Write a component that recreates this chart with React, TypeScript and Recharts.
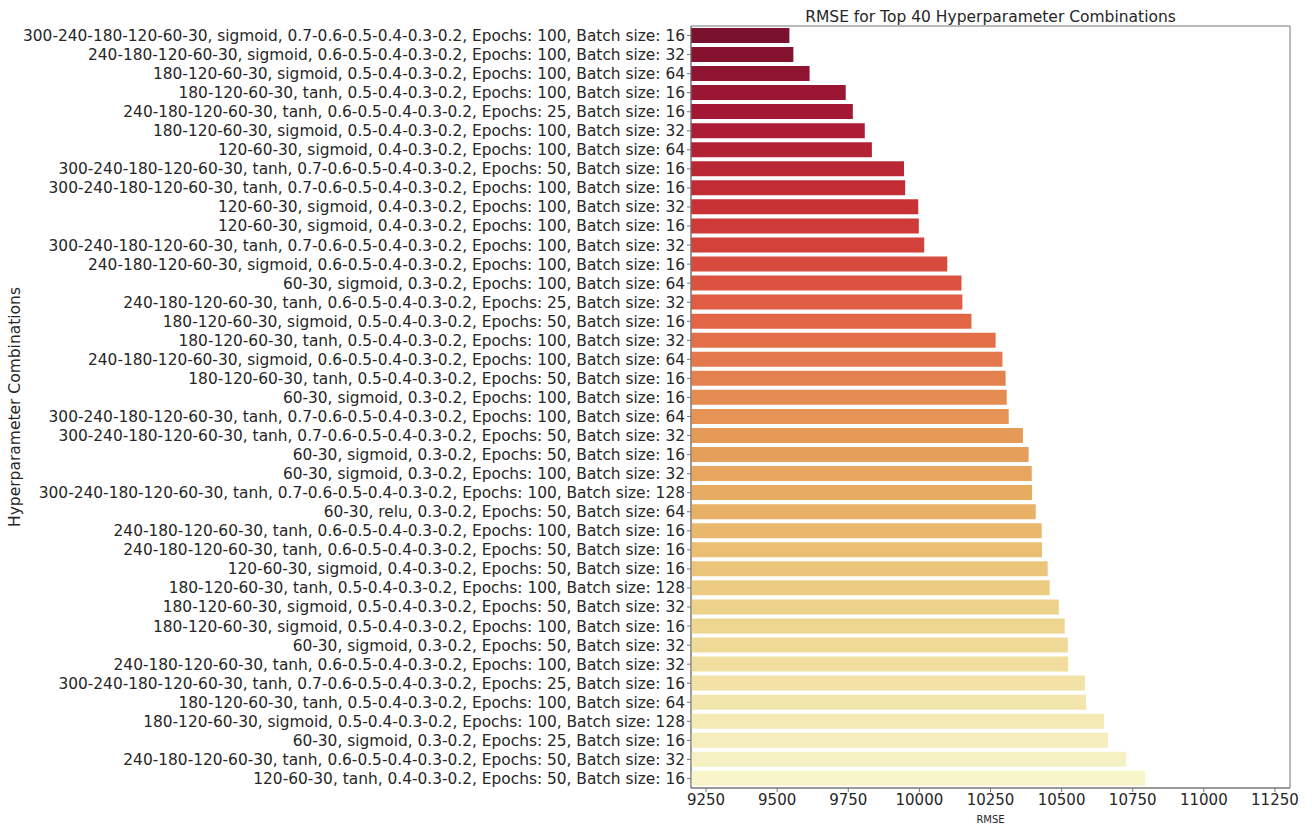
import React from 'react';
import { BarChart, Bar, XAxis, YAxis, Cell, ReferenceArea } from 'recharts';

const combos = [
  '300-240-180-120-60-30, sigmoid, 0.7-0.6-0.5-0.4-0.3-0.2, Epochs: 100, Batch size: 16',
  '240-180-120-60-30, sigmoid, 0.6-0.5-0.4-0.3-0.2, Epochs: 100, Batch size: 32',
  '180-120-60-30, sigmoid, 0.5-0.4-0.3-0.2, Epochs: 100, Batch size: 64',
  '180-120-60-30, tanh, 0.5-0.4-0.3-0.2, Epochs: 100, Batch size: 16',
  '240-180-120-60-30, tanh, 0.6-0.5-0.4-0.3-0.2, Epochs: 25, Batch size: 16',
  '180-120-60-30, sigmoid, 0.5-0.4-0.3-0.2, Epochs: 100, Batch size: 32',
  '120-60-30, sigmoid, 0.4-0.3-0.2, Epochs: 100, Batch size: 64',
  '300-240-180-120-60-30, tanh, 0.7-0.6-0.5-0.4-0.3-0.2, Epochs: 50, Batch size: 16',
  '300-240-180-120-60-30, tanh, 0.7-0.6-0.5-0.4-0.3-0.2, Epochs: 100, Batch size: 16',
  '120-60-30, sigmoid, 0.4-0.3-0.2, Epochs: 100, Batch size: 32',
  '120-60-30, sigmoid, 0.4-0.3-0.2, Epochs: 100, Batch size: 16',
  '300-240-180-120-60-30, tanh, 0.7-0.6-0.5-0.4-0.3-0.2, Epochs: 100, Batch size: 32',
  '240-180-120-60-30, sigmoid, 0.6-0.5-0.4-0.3-0.2, Epochs: 100, Batch size: 16',
  '60-30, sigmoid, 0.3-0.2, Epochs: 100, Batch size: 64',
  '240-180-120-60-30, tanh, 0.6-0.5-0.4-0.3-0.2, Epochs: 25, Batch size: 32',
  '180-120-60-30, sigmoid, 0.5-0.4-0.3-0.2, Epochs: 50, Batch size: 16',
  '180-120-60-30, tanh, 0.5-0.4-0.3-0.2, Epochs: 100, Batch size: 32',
  '240-180-120-60-30, sigmoid, 0.6-0.5-0.4-0.3-0.2, Epochs: 100, Batch size: 64',
  '180-120-60-30, tanh, 0.5-0.4-0.3-0.2, Epochs: 50, Batch size: 16',
  '60-30, sigmoid, 0.3-0.2, Epochs: 100, Batch size: 16',
  '300-240-180-120-60-30, tanh, 0.7-0.6-0.5-0.4-0.3-0.2, Epochs: 100, Batch size: 64',
  '300-240-180-120-60-30, tanh, 0.7-0.6-0.5-0.4-0.3-0.2, Epochs: 50, Batch size: 32',
  '60-30, sigmoid, 0.3-0.2, Epochs: 50, Batch size: 16',
  '60-30, sigmoid, 0.3-0.2, Epochs: 100, Batch size: 32',
  '300-240-180-120-60-30, tanh, 0.7-0.6-0.5-0.4-0.3-0.2, Epochs: 100, Batch size: 128',
  '60-30, relu, 0.3-0.2, Epochs: 50, Batch size: 64',
  '240-180-120-60-30, tanh, 0.6-0.5-0.4-0.3-0.2, Epochs: 100, Batch size: 16',
  '240-180-120-60-30, tanh, 0.6-0.5-0.4-0.3-0.2, Epochs: 50, Batch size: 16',
  '120-60-30, sigmoid, 0.4-0.3-0.2, Epochs: 50, Batch size: 16',
  '180-120-60-30, tanh, 0.5-0.4-0.3-0.2, Epochs: 100, Batch size: 128',
  '180-120-60-30, sigmoid, 0.5-0.4-0.3-0.2, Epochs: 50, Batch size: 32',
  '180-120-60-30, sigmoid, 0.5-0.4-0.3-0.2, Epochs: 100, Batch size: 16',
  '60-30, sigmoid, 0.3-0.2, Epochs: 50, Batch size: 32',
  '240-180-120-60-30, tanh, 0.6-0.5-0.4-0.3-0.2, Epochs: 100, Batch size: 32',
  '300-240-180-120-60-30, tanh, 0.7-0.6-0.5-0.4-0.3-0.2, Epochs: 25, Batch size: 16',
  '180-120-60-30, tanh, 0.5-0.4-0.3-0.2, Epochs: 100, Batch size: 64',
  '180-120-60-30, sigmoid, 0.5-0.4-0.3-0.2, Epochs: 100, Batch size: 128',
  '60-30, sigmoid, 0.3-0.2, Epochs: 25, Batch size: 16',
  '240-180-120-60-30, tanh, 0.6-0.5-0.4-0.3-0.2, Epochs: 50, Batch size: 32',
  '120-60-30, tanh, 0.4-0.3-0.2, Epochs: 50, Batch size: 16',
];

const rmse = [
  9543, 9557, 9614, 9741, 9766, 9808, 9833, 9946, 9950, 9996,
  9998, 10017, 10098, 10148, 10151, 10183, 10268, 10292, 10303, 10307,
  10314, 10364, 10384, 10395, 10396, 10409, 10430, 10431, 10451, 10458,
  10490, 10511, 10522, 10523, 10582, 10586, 10649, 10663, 10727, 10794,
];

const xTicks = [9250, 9500, 9750, 10000, 10250, 10500, 10750, 11000, 11250];
const xDomain = [9197, 11303];

const data = combos.map((name, i) => ({ name, rmse: rmse[i] }));

// YlOrRd reversed, desaturated like seaborn (saturation 0.75)
const stops = ['#800026', '#bd0026', '#e31a1c', '#fc4e2a', '#fd8d3c', '#feb24c', '#fed976', '#ffeda0', '#ffffcc'];

function hexToRgb(h: string) {
  return [1, 3, 5].map((k) => parseInt(h.slice(k, k + 2), 16) / 255);
}

function desat(rgb: number[], s: number) {
  const [r, g, b] = rgb;
  const max = Math.max(r, g, b);
  const min = Math.min(r, g, b);
  const l = (max + min) / 2;
  if (max === min) return rgb;
  const d = max - min;
  let sat = l > 0.5 ? d / (2 - max - min) : d / (max + min);
  let h = 0;
  if (max === r) h = ((g - b) / d + (g < b ? 6 : 0)) / 6;
  else if (max === g) h = ((b - r) / d + 2) / 6;
  else h = ((r - g) / d + 4) / 6;
  sat *= s;
  const q = l < 0.5 ? l * (1 + sat) : l + sat - l * sat;
  const p = 2 * l - q;
  const hue = (t: number) => {
    if (t < 0) t += 1;
    if (t > 1) t -= 1;
    if (t < 1 / 6) return p + (q - p) * 6 * t;
    if (t < 1 / 2) return q;
    if (t < 2 / 3) return p + (q - p) * (2 / 3 - t) * 6;
    return p;
  };
  return [hue(h + 1 / 3), hue(h), hue(h - 1 / 3)];
}

function colorAt(i: number, n: number) {
  const t = (i + 1) / (n + 1);
  const pos = t * (stops.length - 1);
  const k = Math.min(Math.floor(pos), stops.length - 2);
  const f = pos - k;
  const a = hexToRgb(stops[k]);
  const b = hexToRgb(stops[k + 1]);
  const mix = a.map((v, j) => v + (b[j] - v) * f);
  const out = desat(mix, 0.75);
  return `rgb(${out.map((v) => Math.round(v * 255)).join(',')})`;
}

const font = 'DejaVu Sans, sans-serif';
const textColor = '#262626';
const spine = '#777';

export default function App() {
  return (
    <div style={{ position: 'absolute', left: 0, top: 0, width: 1312, height: 825, background: '#fff', fontFamily: font }}>
      <div
        style={{
          position: 'absolute',
          left: 691,
          width: 599,
          top: 8,
          textAlign: 'center',
          fontSize: 15.5,
          color: textColor,
          whiteSpace: 'nowrap',
        }}
      >
        RMSE for Top 40 Hyperparameter Combinations
      </div>
      <BarChart
        width={1312}
        height={825}
        data={data}
        layout="vertical"
        margin={{ top: 26, right: 22, bottom: 0, left: 0 }}
        barCategoryGap="10%"
      >
        <XAxis
          type="number"
          dataKey="rmse"
          domain={xDomain}
          ticks={xTicks}
          allowDataOverflow
          height={37}
          tickSize={4}
          stroke={spine}
          tick={{ fill: textColor, fontSize: 15, fontFamily: font }}
          label={{ value: 'RMSE', position: 'insideBottom', offset: 2, fill: textColor, fontSize: 10, fontFamily: font }}
        />
        <YAxis
          type="category"
          dataKey="name"
          width={691}
          interval={0}
          tickSize={4}
          stroke={spine}
          tick={{ fill: textColor, fontSize: 15.4, fontFamily: font }}
          label={{
            value: 'Hyperparameter Combinations',
            angle: -90,
            position: 'insideLeft',
            offset: 14,
            fill: textColor,
            fontSize: 15.5,
            fontFamily: font,
            style: { textAnchor: 'middle' },
          }}
        />
        <Bar dataKey="rmse" isAnimationActive={false}>
          {data.map((d, i) => (
            <Cell key={d.name + i} fill={colorAt(i, data.length)} />
          ))}
        </Bar>
        <ReferenceArea x1={xDomain[0]} x2={xDomain[1]} fill="none" stroke={spine} strokeWidth={1} ifOverflow="visible" />
      </BarChart>
    </div>
  );
}
